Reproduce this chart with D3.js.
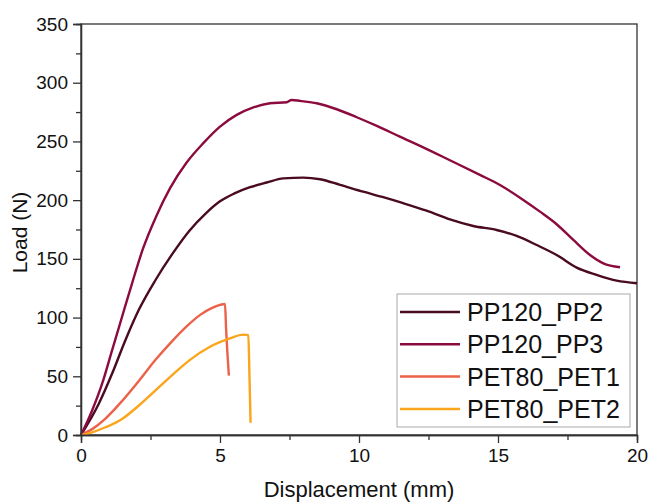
<!DOCTYPE html>
<html><head><meta charset="utf-8">
<script src="https://cdn.jsdelivr.net/npm/d3@7"></script>
<style>body{margin:0;background:#fff}svg{display:block}text{font-family:"Liberation Sans",Arial,sans-serif}</style>
</head><body><svg id="c" width="650" height="502"></svg>
<script>
const seriesNames = ["PP120_PP2","PP120_PP3","PET80_PET1","PET80_PET2"];
const seriesColors = ["#4a0a22","#8c0b3e","#ec6149","#fba51b"];
const xTicks = [0,5,10,15,20];
const yTicks = [0,50,100,150,200,250,300,350];

const pp2X = [0,0.64,1.12,1.6,2.08,2.68,3.28,3.9,4.5,5.0,5.5,6.08,6.68,7.28,8.0,8.6,9.32,10.15,10.87,11.59,12.43,13.27,14.11,14.95,15.67,16.39,17.11,17.83,18.55,19.27,20.0];
const pp2Y = [0,26.6,52.3,80.9,106.6,132,154,174,189,199,205.5,211,215,218.5,219.2,217.8,213,207.2,202.5,197.4,191,183.6,178,174.6,169.5,161.8,153.3,142.5,136.3,131.4,129.2];

const pp3X = [0,0.4,0.76,1.12,1.48,1.84,2.22,2.72,3.2,3.8,4.4,5.0,5.6,6.2,6.8,7.4,7.58,7.88,8.48,9.2,9.92,10.64,11.47,12.31,13.27,14.35,15.07,15.91,16.51,17.11,17.71,18.31,18.79,19.39];
const pp3Y = [0,20.9,43.7,72.3,100.9,129.4,158,187,210,232,248.5,262.6,272.6,279,282.5,283.4,285.3,284.5,282.5,277.4,270.6,263.2,254.1,245,234,221.5,212.9,200.2,190.2,179.5,166.1,153.3,146.2,142.8];

const pet1X = [0,0.4,0.88,1.48,2.08,2.68,3.28,3.8,4.3,4.7,5.0,5.18,5.22,5.32];
const pet1Y = [0,5,14,29,46,64,80,92.5,102.5,108,110.8,111.6,90,50.5];

const pet2X = [0,0.4,0.88,1.48,2.08,2.68,3.28,3.92,4.64,5.36,5.84,6.02,6.06,6.1];
const pet2Y = [0,2.3,6.6,13.7,25.1,38,51,64,75.2,82.3,85.5,85,50,10.5];

const seriesX = [pp2X,pp3X,pet1X,pet2X];
const seriesY = [pp2Y,pp3Y,pet1Y,pet2Y];

const svg = d3.select("#c");
const L=81,R=637,T=24,B=435;
const x = d3.scaleLinear().domain([0,20]).range([L,R]);
const y = d3.scaleLinear().domain([0,350]).range([B,T]);

svg.append("rect").attr("x",L).attr("y",T).attr("width",R-L).attr("height",B-T)
  .attr("fill","none").attr("stroke","#333").attr("stroke-width",1.3);

const line = d3.line().x(d=>x(d[0])).y(d=>y(d[1])).curve(d3.curveMonotoneX);
seriesNames.forEach((n,i)=>{
  const pts = seriesX[i].map((v,j)=>[v,seriesY[i][j]]);
  svg.append("path").datum(pts).attr("d",line).attr("fill","none")
    .attr("stroke",seriesColors[i]).attr("stroke-width",2.4).attr("stroke-linejoin","round");
});

const xa = svg.append("g").attr("transform",`translate(0,${B})`)
  .call(d3.axisBottom(x).tickValues(xTicks).tickSize(8).tickPadding(6).tickFormat(d3.format("d")));
const xm = svg.append("g").attr("transform",`translate(0,${B})`)
  .call(d3.axisBottom(x).tickValues([2.5,7.5,12.5,17.5]).tickSize(5).tickFormat(""));
const ya = svg.append("g").attr("transform",`translate(${L},0)`)
  .call(d3.axisLeft(y).tickValues(yTicks).tickSize(8).tickPadding(5).tickFormat(d3.format("d")));
const ym = svg.append("g").attr("transform",`translate(${L},0)`)
  .call(d3.axisLeft(y).tickValues(d3.range(25,350,50)).tickSize(5).tickFormat(""));
[xa,xm,ya,ym].forEach(g=>{
  g.select(".domain").attr("stroke","#333").attr("stroke-width",1.3);
  g.selectAll(".tick line").attr("stroke","#333").attr("stroke-width",1.3);
  g.selectAll("text").attr("font-size",19).attr("fill","#111").attr("font-family","Liberation Sans, Arial, sans-serif");
});

svg.append("text").attr("x",(L+R)/2).attr("y",497).attr("text-anchor","middle")
  .attr("font-size",22).attr("fill","#111").text("Displacement (mm)");
svg.append("text").attr("transform",`translate(27,${(T+B)/2+3}) rotate(-90)`).attr("text-anchor","middle")
  .attr("font-size",21).attr("fill","#111").text("Load (N)");

const lg = svg.append("g");
lg.append("rect").attr("x",397).attr("y",294).attr("width",233).attr("height",133)
  .attr("fill","#fff").attr("stroke","#aaa").attr("stroke-width",1);
seriesNames.forEach((n,i)=>{
  const cy = 312 + i*32.3;
  lg.append("line").attr("x1",400).attr("x2",460).attr("y1",cy).attr("y2",cy)
    .attr("stroke",seriesColors[i]).attr("stroke-width",2.5);
  lg.append("text").attr("x",467).attr("y",cy+9).attr("font-size",25).attr("fill","#111").text(n);
});
</script></body></html>
